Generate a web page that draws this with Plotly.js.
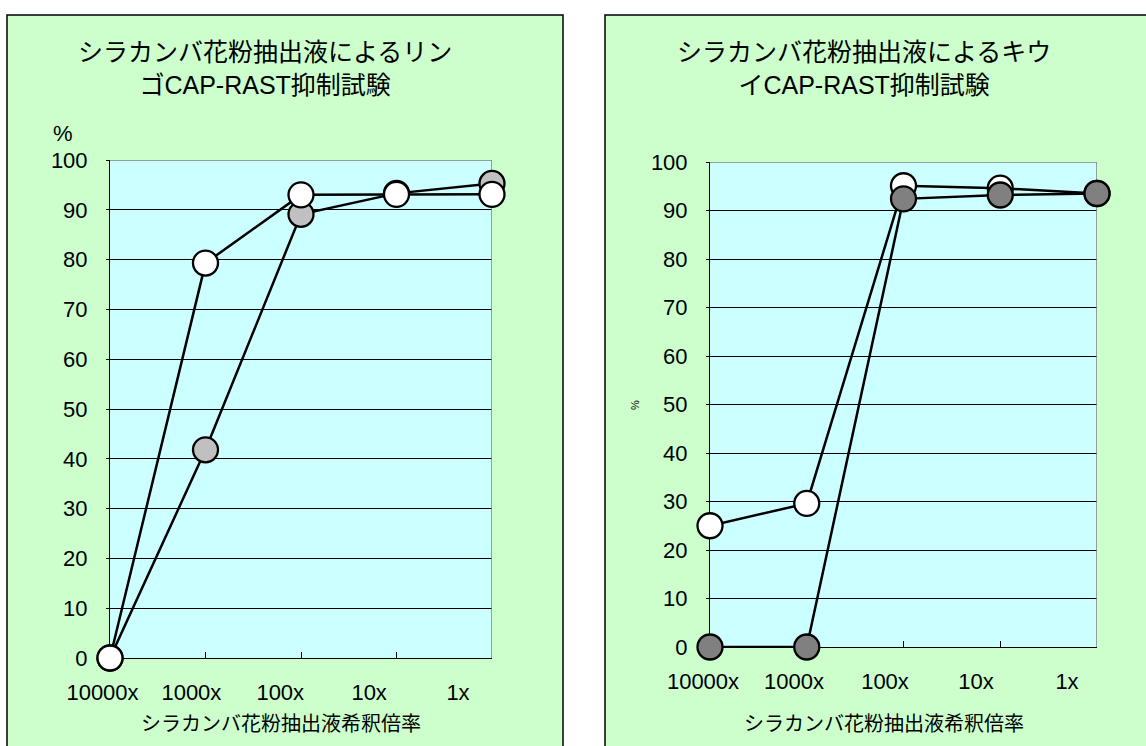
<!DOCTYPE html>
<html><head><meta charset="utf-8">
<script src="https://cdn.plot.ly/plotly-3.0.1.min.js"></script>
<style>html,body{margin:0;padding:0;background:#fff}#chart{width:1146px;height:746px}</style>
</head><body><div id="chart"></div>
<script>
// ---- data ----
const categories = ['10000x', '1000x', '100x', '10x', '1x'];
const appleGray  = [0, 41.8, 89.1, 93.3, 95.3];
const appleWhite = [0, 79.3, 93.0, 93.1, 93.1];
const kiwiWhite  = [25.0, 29.6, 95.1, 94.6, 93.5];
const kiwiGray   = [0, 0, 92.4, 93.2, 93.5];
const yTicks = [0, 10, 20, 30, 40, 50, 60, 70, 80, 90, 100];
const leftTitle  = 'シラカンバ花粉抽出液によるリン<br>ゴCAP-RAST抑制試験';
const rightTitle = 'シラカンバ花粉抽出液によるキウ<br>イCAP-RAST抑制試験';
const xTitle = 'シラカンバ花粉抽出液希釈倍率';
const yUnit = '%';

// ---- layout helpers (pixel -> paper) ----
const W = 1146, H = 746;
const px = v => v / W;
const py = v => 1 - v / H;
const FONT = '"Liberation Sans", Arial, "Noto Sans CJK JP", sans-serif';
const idx = categories.map((_, i) => i);
const lastIdx = categories.length - 1;
const yMin = yTicks[0], yMax = yTicks[yTicks.length - 1];

function labelAxis(d0, d1, c0, c4, anchor) {
  const unit = (c4 - c0) / lastIdx;
  return {
    domain: [px(d0), px(d1)], anchor: anchor, type: 'linear',
    range: [(d0 - c0) / unit, (d1 - c0) / unit],
    tickvals: idx, ticktext: categories, ticks: '',
    showgrid: false, showline: false, zeroline: false,
    tickfont: {family: FONT, size: 22, color: '#000'},
    ticklabelstandoff: 19, fixedrange: true
  };
}
function hiddenY(top, bottom, anchor) {
  return {domain: [py(bottom), py(top)], anchor: anchor, range: [yMin, yMax],
          visible: false, showgrid: false, zeroline: false, fixedrange: true};
}
function catAxis(d0, d1, anchor) {
  return {
    domain: [px(d0), px(d1)], anchor: anchor, type: 'category',
    categoryorder: 'array', categoryarray: categories,
    range: [0, lastIdx], showticklabels: false,
    ticks: 'inside', ticklen: 6, tickcolor: '#000', tickwidth: 1,
    showgrid: false, zeroline: false, showline: true, linecolor: '#000', linewidth: 1,
    layer: 'below traces', fixedrange: true
  };
}
function valAxis(top, bottom, anchor) {
  return {
    domain: [py(bottom), py(top)], anchor: anchor, range: [yMin, yMax],
    tickvals: yTicks, ticks: 'outside', ticklen: 3, tickcolor: '#000',
    showgrid: true, gridcolor: '#000', gridwidth: 1, zeroline: false,
    showline: true, linecolor: '#000', linewidth: 1,
    tickfont: {family: FONT, size: 22, color: '#000'},
    ticklabelstandoff: 14, layer: 'below traces', fixedrange: true
  };
}
function series(y, fill, xa, ya) {
  return {
    x: categories, y: y, xaxis: xa, yaxis: ya, type: 'scatter', mode: 'lines+markers',
    line: {color: '#000', width: 2.5},
    marker: {size: 25, color: fill, line: {color: '#000', width: 2.3}},
    cliponaxis: false, hoverinfo: 'skip', showlegend: false
  };
}
// invisible carrier so the tick-label axes get a subplot
function carrier(y, xa, ya) {
  return {x: idx, y: y, xaxis: xa, yaxis: ya, type: 'scatter', mode: 'markers',
          marker: {opacity: 0, size: 1}, hoverinfo: 'skip', showlegend: false};
}

const traces = [
  carrier(appleGray, 'x3', 'y3'),
  carrier(kiwiGray, 'x4', 'y4'),
  series(appleGray, '#c0c0c0', 'x', 'y'),
  series(appleWhite, '#ffffff', 'x', 'y'),
  series(kiwiWhite, '#ffffff', 'x2', 'y2'),
  series(kiwiGray, '#808080', 'x2', 'y2')
];

function frame(xa, ya) {
  return {type: 'path', xref: xa, yref: ya,
    path: 'M0,' + yMax + ' L' + lastIdx + ',' + yMax + ' L' + lastIdx + ',' + yMin,
    line: {color: '#808080', width: 1.5}, layer: 'between'};
}

const layout = {
  width: W, height: H, margin: {l: 0, r: 0, t: 0, b: 0},
  paper_bgcolor: '#ffffff', plot_bgcolor: 'rgba(0,0,0,0)', showlegend: false,
  font: {family: FONT, color: '#000'},
  xaxis: catAxis(110, 492, 'y'),
  yaxis: valAxis(160, 658, 'x'),
  xaxis2: catAxis(710, 1097, 'y2'),
  yaxis2: valAxis(162, 647, 'x2'),
  xaxis3: labelAxis(88, 500, 102.5, 458, 'y3'),
  yaxis3: hiddenY(160, 658, 'x3'),
  xaxis4: labelAxis(688, 1100, 703, 1067, 'y4'),
  yaxis4: hiddenY(162, 647, 'x4'),
  shapes: [
    {type: 'rect', xref: 'paper', yref: 'paper', x0: px(7), x1: px(563), y0: py(760), y1: py(15),
     fillcolor: '#ccffcc', line: {color: '#000', width: 1.5}, layer: 'below'},
    {type: 'rect', xref: 'paper', yref: 'paper', x0: px(605), x1: px(1160), y0: py(760), y1: py(15),
     fillcolor: '#ccffcc', line: {color: '#000', width: 1.5}, layer: 'below'},
    {type: 'rect', xref: 'paper', yref: 'paper', x0: px(110), x1: px(492), y0: py(658), y1: py(160),
     fillcolor: '#ccffff', line: {width: 0}, layer: 'below'},
    {type: 'rect', xref: 'paper', yref: 'paper', x0: px(710), x1: px(1097), y0: py(647), y1: py(162),
     fillcolor: '#ccffff', line: {width: 0}, layer: 'below'},
    frame('x', 'y'),
    frame('x2', 'y2')
  ],
  annotations: [
    {text: leftTitle, xref: 'paper', yref: 'paper', x: px(265), y: py(69), xanchor: 'center', yanchor: 'middle',
     showarrow: false, align: 'center', font: {family: FONT, size: 25, color: '#000'}},
    {text: rightTitle, xref: 'paper', yref: 'paper', x: px(864), y: py(69), xanchor: 'center', yanchor: 'middle',
     showarrow: false, align: 'center', font: {family: FONT, size: 25, color: '#000'}},
    {text: xTitle, xref: 'paper', yref: 'paper', x: px(281), y: py(724), xanchor: 'center', yanchor: 'middle',
     showarrow: false, font: {family: FONT, size: 20, color: '#000'}},
    {text: xTitle, xref: 'paper', yref: 'paper', x: px(884), y: py(724), xanchor: 'center', yanchor: 'middle',
     showarrow: false, font: {family: FONT, size: 20, color: '#000'}},
    {text: yUnit, xref: 'paper', yref: 'paper', x: px(63), y: py(133), xanchor: 'center', yanchor: 'middle',
     showarrow: false, font: {family: FONT, size: 22, color: '#000'}},
    {text: yUnit, xref: 'paper', yref: 'paper', x: px(635), y: py(405), xanchor: 'center', yanchor: 'middle',
     showarrow: false, textangle: -90, font: {family: FONT, size: 11, color: '#000'}}
  ]
};

Plotly.newPlot('chart', traces, layout, {staticPlot: true, displayModeBar: false});
</script>
</body></html>
